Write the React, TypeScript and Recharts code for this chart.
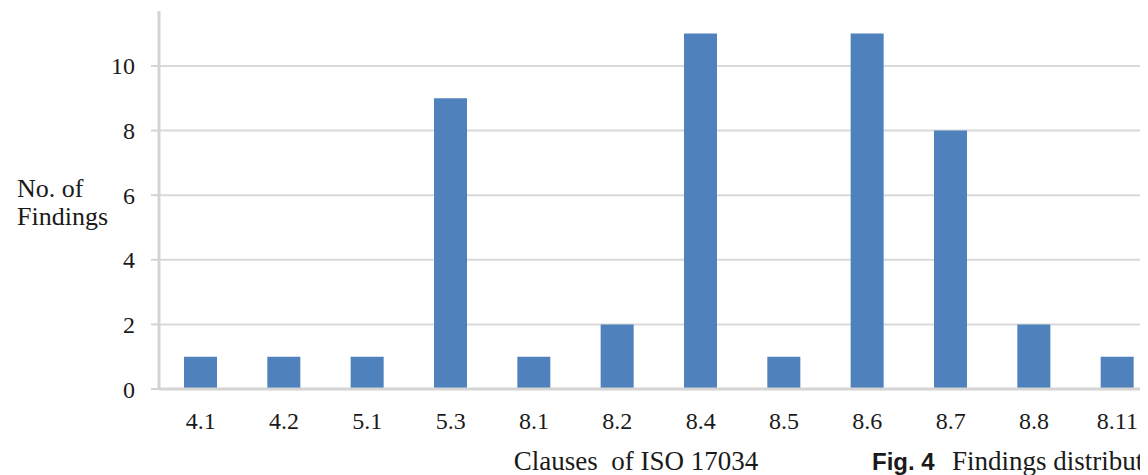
import { BarChart, Bar, XAxis, YAxis, CartesianGrid, Label } from "recharts";

const clauses = ["4.1", "4.2", "5.1", "5.3", "8.1", "8.2", "8.4", "8.5", "8.6", "8.7", "8.8", "8.11"];
const findings = [1, 1, 1, 9, 1, 2, 11, 1, 11, 8, 2, 1];
const yTicks = [0, 2, 4, 6, 8, 10];

const data = clauses.map((clause, i) => ({ clause, findings: findings[i] }));

const serif = '"Liberation Serif", "Times New Roman", serif';
const sans = '"Liberation Sans", Arial, sans-serif';
const gridGray = "#d9d9d9";
const axisGray = "#d4d4d4";
const textColor = "#1a1a1a";

export default function App() {
  return (
    <div style={{ position: "relative", width: 1140, height: 467, overflow: "hidden" }}>
      <BarChart
        width={1160}
        height={467}
        data={data}
        margin={{ top: 3, right: 9, bottom: 0, left: 0 }}
      >
        <CartesianGrid vertical={false} horizontalValues={yTicks} stroke={gridGray} strokeWidth={2} />
        <XAxis
          dataKey="clause"
          height={86}
          tickLine={false}
          tickSize={6}
          tickMargin={17}
          axisLine={{ stroke: axisGray, strokeWidth: 3 }}
          tick={{ fill: textColor, fontSize: 24, fontFamily: serif }}
        >
          <Label
            content={({ viewBox }: any) => (
              <text
                x={viewBox.x + viewBox.width / 2 - 23}
                y={viewBox.y + 81}
                textAnchor="middle"
                fill={textColor}
                fontSize={27}
                fontFamily={serif}
                style={{ whiteSpace: "pre" }}
              >
                {"Clauses  of ISO 17034"}
              </text>
            )}
          />
        </XAxis>
        <YAxis
          width={151}
          domain={[0, 11.7]}
          ticks={yTicks}
          tickSize={8}
          tickMargin={16}
          axisLine={{ stroke: axisGray, strokeWidth: 3 }}
          tickLine={{ stroke: axisGray, strokeWidth: 2 }}
          tick={{ fill: textColor, fontSize: 24, fontFamily: serif }}
        >
          <Label
            content={() => (
              <text fill={textColor} fontSize={26} fontFamily={serif}>
                <tspan x={9} y={189}>No. of</tspan>
                <tspan x={9} y={217}>Findings</tspan>
              </text>
            )}
          />
        </YAxis>
        <Bar dataKey="findings" fill="#4f81bd" barSize={33} isAnimationActive={false} />
      </BarChart>
      <svg
        width={1140}
        height={467}
        style={{ position: "absolute", left: 0, top: 0, pointerEvents: "none" }}
      >
        <text x={864} y={462} fill={textColor}>
          <tspan fontFamily={sans} fontWeight="bold" fontSize={24}>Fig. 4</tspan>
          <tspan x={944} fontFamily={serif} fontSize={27}>Findings distribution</tspan>
        </text>
      </svg>
    </div>
  );
}
